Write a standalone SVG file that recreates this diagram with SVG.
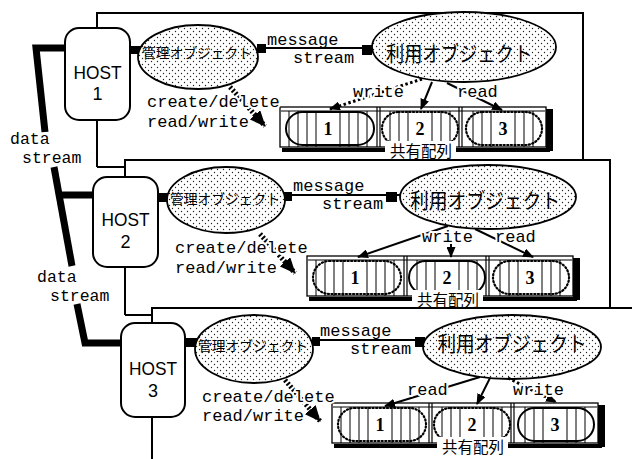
<svg xmlns="http://www.w3.org/2000/svg" width="632" height="459" viewBox="0 0 632 459">
<style>
.frame{fill:none;stroke:#000;stroke-width:2}
.host{fill:#fff;stroke:#000;stroke-width:2}
.ht{font-family:"Liberation Sans",Arial,sans-serif;font-size:18px;text-anchor:middle;fill:#000}
.ell{fill:url(#dots);stroke:#000;stroke-width:1.8}
.bg{fill:#fff}
.jp1{font-family:"Noto Sans CJK JP",sans-serif;font-size:14px;text-anchor:middle;fill:#000}
.jp2{font-family:"Noto Sans CJK JP",sans-serif;font-size:21px;text-anchor:middle;fill:#000}
.jp3{font-family:"Noto Sans CJK JP",sans-serif;font-size:15.5px;text-anchor:middle;fill:#000}
.mono{font-family:"Liberation Mono","Courier New",monospace;font-size:17px;fill:#000}
.ds{font-family:"Liberation Mono","Courier New",monospace;font-size:16.5px;fill:#000}
.halo{stroke:#fff;stroke-width:4;paint-order:stroke;stroke-linejoin:round}
.thick{fill:none;stroke:#000;stroke-width:7;stroke-linejoin:miter}
.blk{fill:#000}
.msg{fill:none;stroke:#000;stroke-width:1.8}
.arr{fill:none;stroke:#000;stroke-width:2;marker-end:url(#ah)}
.darr{fill:none;stroke:#000;stroke-width:3;stroke-dasharray:2.5 2.5;marker-end:url(#ah)}
.cd{fill:none;stroke:#000;stroke-width:5;stroke-dasharray:2 2;marker-end:url(#big)}
.box{fill:#fff;stroke:#000;stroke-width:1.3}
.sl{fill:none;stroke:#000;stroke-width:1}
.sep{fill:none;stroke:#000;stroke-width:1.2}
.bot{fill:none;stroke:#000;stroke-width:4}
.solid{fill:none;stroke:#000;stroke-width:2}
.dot{fill:none;stroke:#000;stroke-width:2.2;stroke-dasharray:1.2 2.4;stroke-linecap:round}
.num{font-family:"Liberation Serif","Times New Roman",serif;font-weight:bold;font-size:18px;text-anchor:middle;fill:#000}
</style>
<defs>
<pattern id="dots" width="6" height="6" patternUnits="userSpaceOnUse">
<rect width="6" height="6" fill="#fff"/>
<circle cx="1.5" cy="1.5" r="0.7" fill="#222"/>
<circle cx="4.5" cy="4.5" r="0.7" fill="#222"/>
</pattern>
<marker id="ah" markerWidth="11" markerHeight="9" refX="10" refY="4.5" orient="auto" markerUnits="userSpaceOnUse"><path d="M0,0 L11,4.5 L0,9 z" fill="#000"/></marker>
<marker id="big" markerWidth="16" markerHeight="14" refX="15" refY="7" orient="auto" markerUnits="userSpaceOnUse"><path d="M0,0 L16,7 L0,14 z" fill="#000"/></marker>
</defs>
<rect width="632" height="459" fill="#fff"/>

<g id="panels">
<path class="frame" d="M97,167 V13 H583 V160"/>
<path class="frame" d="M97,167 H125"/>
<path class="frame" d="M125,315 V160 H610 V308"/>
<path class="frame" d="M125,315 H152"/>
<path class="frame" d="M152,459 V308 H632"/>
</g>

<g id="labels-data">
<text class="ds" x="10" y="144">data</text>
<text class="ds" x="22" y="163">stream</text>
<text class="ds" x="37" y="282">data</text>
<text class="ds" x="50" y="301">stream</text>
</g>

<g id="connectors">
<path class="thick" d="M66,48 H36 L45,132"/>
<path class="thick" d="M54,167 L72,266"/>
<path class="thick" d="M58,195 H93"/>
<path class="thick" d="M77,304 L85,343 H121"/>
<rect class="blk" x="130" y="46" width="12" height="8"/>
<rect class="blk" x="158" y="193" width="12" height="9"/>
<rect class="blk" x="185" y="338" width="12" height="9"/>
<path class="msg" d="M258,48 H372"/>
<rect class="blk" x="257" y="44" width="9" height="9"/>
<rect class="blk" x="362" y="45" width="10" height="10"/>
<path class="msg" d="M282,195 H400"/>
<rect class="blk" x="282" y="192" width="10" height="9"/>
<rect class="blk" x="386" y="192" width="11" height="10"/>
<path class="msg" d="M312,340 H423"/>
<rect class="blk" x="312" y="337" width="8" height="9"/>
<rect class="blk" x="415" y="337" width="10" height="10"/>
</g>

<g id="host1"><rect class="host" x="65" y="28" width="65" height="92" rx="14"/><text class="ht" x="97.5" y="79" textLength="48" lengthAdjust="spacingAndGlyphs">HOST</text><text class="ht" x="97.5" y="100">1</text></g>
<g id="host2"><rect class="host" x="93" y="177" width="65" height="90" rx="14"/><text class="ht" x="125.5" y="226" textLength="48" lengthAdjust="spacingAndGlyphs">HOST</text><text class="ht" x="125.5" y="248">2</text></g>
<g id="host3"><rect class="host" x="121" y="323" width="64" height="94" rx="14"/><text class="ht" x="153" y="375" textLength="48" lengthAdjust="spacingAndGlyphs">HOST</text><text class="ht" x="153" y="397">3</text></g>

<g id="kanri1"><ellipse class="ell" cx="198" cy="57" rx="60" ry="32"/><text class="jp1" x="197" y="58" textLength="110" lengthAdjust="spacingAndGlyphs">管理オブジェクト</text></g>
<g id="kanri2"><ellipse class="ell" cx="226" cy="200" rx="59" ry="33"/><text class="jp1" x="225" y="204" textLength="110" lengthAdjust="spacingAndGlyphs">管理オブジェクト</text></g>
<g id="kanri3"><ellipse class="ell" cx="254" cy="349" rx="59" ry="34"/><text class="jp1" x="253" y="351" textLength="110" lengthAdjust="spacingAndGlyphs">管理オブジェクト</text></g>

<g id="riyou1"><ellipse class="ell" cx="464" cy="47" rx="92" ry="35"/><text class="jp2" x="459" y="61" textLength="146" lengthAdjust="spacingAndGlyphs">利用オブジェクト</text></g>
<g id="riyou2"><ellipse class="ell" cx="488" cy="197" rx="88" ry="32"/><text class="jp2" x="485" y="208" textLength="150" lengthAdjust="spacingAndGlyphs">利用オブジェクト</text></g>
<g id="riyou3"><ellipse class="ell" cx="512" cy="347" rx="89" ry="32"/><text class="jp2" x="512" y="351" textLength="149" lengthAdjust="spacingAndGlyphs">利用オブジェクト</text></g>

<g id="msglabels">
<text class="mono" x="267" y="45">message</text>
<text class="mono" x="293" y="63">stream</text>
<text class="mono" x="293" y="191">message</text>
<text class="mono" x="322" y="209">stream</text>
<text class="mono" x="320" y="336">message</text>
<text class="mono" x="350" y="354">stream</text>
</g>

<g id="array1" transform="translate(280,107)">
<rect class="box" x="0" y="0" width="266" height="40"/>
<path class="sl" d="M1,4 H265 M9,4 V40 M18,4 V40 M27,4 V40 M36,4 V40 M60,4 V40 M69,4 V40 M78,4 V40 M87,4 V40 M110,4 V40 M119,4 V40 M128,4 V40 M152,4 V40 M161,4 V40 M170,4 V40 M193,4 V40 M202,4 V40 M211,4 V40 M235,4 V40 M244,4 V40 M253,4 V40"/>
<path class="sep" d="M97,0 V40 M100,0 V40 M179,0 V40 M182,0 V40"/>
<rect class="solid" x="6" y="5" width="88" height="33" rx="16.5"/>
<rect class="dot" x="102" y="5" width="76" height="33" rx="16.5"/>
<rect class="dot" x="186" y="5" width="76" height="33" rx="16.5"/>
<rect class="bg" x="42" y="13" width="13" height="17"/><rect class="bg" x="134" y="13" width="13" height="17"/><rect class="bg" x="217" y="13" width="13" height="17"/>
<text class="num" x="48" y="27.5">1</text><text class="num" x="140" y="27.5">2</text><text class="num" x="223" y="27.5">3</text>
<rect class="blk" x="266" y="2" width="7" height="42"/>
<path class="bot" d="M2,43 H105 M176,43 H270"/>
<rect class="bg" x="105" y="34" width="71" height="16"/>
<text class="jp3" x="141" y="49.5">共有配列</text>
</g>

<g id="array2" transform="translate(307,256)">
<rect class="box" x="0" y="0" width="266" height="40"/>
<path class="sl" d="M1,4 H265 M9,4 V40 M18,4 V40 M27,4 V40 M36,4 V40 M60,4 V40 M69,4 V40 M78,4 V40 M87,4 V40 M110,4 V40 M119,4 V40 M128,4 V40 M152,4 V40 M161,4 V40 M170,4 V40 M193,4 V40 M202,4 V40 M211,4 V40 M235,4 V40 M244,4 V40 M253,4 V40"/>
<path class="sep" d="M97,0 V40 M100,0 V40 M179,0 V40 M182,0 V40"/>
<rect class="dot" x="6" y="5" width="88" height="33" rx="16.5"/>
<rect class="solid" x="102" y="5" width="76" height="33" rx="16.5"/>
<rect class="dot" x="186" y="5" width="76" height="33" rx="16.5"/>
<rect class="bg" x="42" y="13" width="13" height="17"/><rect class="bg" x="134" y="13" width="13" height="17"/><rect class="bg" x="217" y="13" width="13" height="17"/>
<text class="num" x="48" y="27.5">1</text><text class="num" x="140" y="27.5">2</text><text class="num" x="223" y="27.5">3</text>
<rect class="blk" x="266" y="2" width="7" height="42"/>
<path class="bot" d="M2,43 H105 M176,43 H270"/>
<rect class="bg" x="105" y="34" width="71" height="16"/>
<text class="jp3" x="141" y="49.5">共有配列</text>
</g>

<g id="array3" transform="translate(332,403)">
<rect class="box" x="0" y="0" width="266" height="40"/>
<path class="sl" d="M1,4 H265 M9,4 V40 M18,4 V40 M27,4 V40 M36,4 V40 M60,4 V40 M69,4 V40 M78,4 V40 M87,4 V40 M110,4 V40 M119,4 V40 M128,4 V40 M152,4 V40 M161,4 V40 M170,4 V40 M193,4 V40 M202,4 V40 M211,4 V40 M235,4 V40 M244,4 V40 M253,4 V40"/>
<path class="sep" d="M97,0 V40 M100,0 V40 M179,0 V40 M182,0 V40"/>
<rect class="dot" x="6" y="5" width="88" height="33" rx="16.5"/>
<rect class="dot" x="102" y="5" width="76" height="33" rx="16.5"/>
<rect class="solid" x="186" y="5" width="76" height="33" rx="16.5"/>
<rect class="bg" x="42" y="13" width="13" height="17"/><rect class="bg" x="134" y="13" width="13" height="17"/><rect class="bg" x="217" y="13" width="13" height="17"/>
<text class="num" x="48" y="27.5">1</text><text class="num" x="140" y="27.5">2</text><text class="num" x="223" y="27.5">3</text>
<rect class="blk" x="266" y="2" width="7" height="42"/>
<path class="bot" d="M2,43 H105 M176,43 H270"/>
<rect class="bg" x="105" y="34" width="71" height="16"/>
<text class="jp3" x="141" y="49.5">共有配列</text>
</g>

<g id="arrows">
<path class="darr" d="M422,79 L330,109"/>
<path class="arr" d="M432,82 L421,109"/>
<path class="arr" d="M447,83 L502,110"/>
<path class="arr" d="M448,226 L358,257"/>
<path class="arr" d="M451,243 L451,257"/>
<path class="arr" d="M475,229 L533,257"/>
<path class="arr" d="M480,377 L385,406"/>
<path class="arr" d="M490,378 L477,404"/>
<path class="darr" d="M508,378 L556,402"/>
<path class="cd" d="M230,87 L265,126"/>
<path class="cd" d="M260,234 L295,273"/>
<path class="cd" d="M285,380 L320,421"/>
</g>

<g id="arrowlabels">
<text class="mono halo" x="353" y="97">write</text>
<text class="mono halo" x="457" y="97">read</text>
<text class="mono halo" x="422" y="242">write</text>
<text class="mono halo" x="495" y="242">read</text>
<text class="mono halo" x="407" y="395">read</text>
<text class="mono halo" x="513" y="395">write</text>
<text class="mono halo" x="147" y="107">create/delete</text>
<text class="mono halo" x="147" y="127">read/write</text>
<text class="mono halo" x="175" y="253">create/delete</text>
<text class="mono halo" x="175" y="273">read/write</text>
<text class="mono halo" x="202" y="402">create/delete</text>
<text class="mono halo" x="202" y="421">read/write</text>
</g>
</svg>
